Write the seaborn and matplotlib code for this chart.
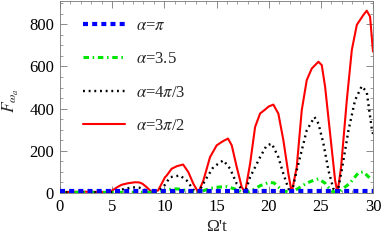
import numpy as np
import pandas as pd
import matplotlib
matplotlib.use('Agg')
import matplotlib.pyplot as plt
from matplotlib.ticker import MultipleLocator
import seaborn as sns

# values
t_red = [0, 1, 2, 3, 4, 4.5, 5.0, 5.5, 5.9, 6.5, 7.2, 7.6, 7.9, 8.3, 8.8, 9.4,
         10.07, 10.23, 10.7, 11.2, 11.8, 12.3, 12.78, 13.26, 13.74, 14.38, 15.02,
         15.6, 16.1, 16.46, 16.94, 17.42, 17.74, 18.22, 18.7, 19.18, 19.65, 20.0,
         20.45, 20.93, 21.41, 21.89, 22.21, 22.69, 23.17, 23.65, 24.13, 24.77,
         25.09, 25.41, 25.89, 26.37, 26.6, 26.94, 27.49, 27.97, 28.45, 29.08,
         29.4, 29.72, 30.0]
f_red = [5, 5, 6, 6, 4, 3, 12, 28, 39, 46, 51, 50, 44, 28, 4, 12,
         75, 83, 115, 127, 135, 99, 44, 3, 59, 170, 226,
         245, 258, 226, 123, 28, 3, 139, 313, 377, 395, 410,
         419, 376, 250, 91, 2, 123, 392, 535, 590, 622,
         606, 503, 281, 59, 2, 123, 440, 678, 797, 844,
         864, 836, 670]

t_black = [0, 5, 5.5, 6.2, 7.0, 7.6, 8.2, 8.8, 9.4, 9.9, 10.55, 11.5, 12.15,
           12.8, 13.26, 13.9, 14.7, 15.66, 16.3, 16.94, 17.74, 18.22, 19.18,
           19.8, 20.3, 20.93, 21.41, 21.9, 22.21, 22.69, 23.17, 23.65, 24.39,
           24.77, 25.25, 25.73, 26.2, 26.6, 27.0, 27.65, 28.28, 28.92, 29.4,
           29.88, 30.0]
f_black = [4, 4, 10, 20, 27, 25, 14, 2, 10, 28, 75, 83, 59,
           15, 2, 59, 123, 155, 115, 44, 2, 75, 170,
           225, 234, 170, 91, 20, 2, 107, 202, 297, 360,
           329, 234, 107, 20, 2, 107, 297, 440, 506, 479,
           305, 280]

t_green = [0, 9.0, 9.5, 10.2, 10.9, 11.6, 12.3, 13.0, 13.6, 14.4, 15.2, 16.0,
           16.7, 17.4, 17.9, 18.5, 19.2, 20.0, 20.5, 21.3, 22.0, 22.6, 23.65,
           24.4, 24.77, 25.4, 25.7, 26.2, 26.8, 27.8, 28.6, 29.1, 29.7, 30.0]
f_green = [3, 3, 5, 15, 20, 18, 8, 3, 8, 22, 28, 30,
           20, 6, 3, 15, 35, 50, 48, 12, 3, 15, 47,
           62, 67, 47, 28, 5, 8, 47, 96, 100, 70, 72]

t_blue = [0, 30]
f_blue = [8, 8]

labels = [r'$\alpha$=$\pi$', r'$\alpha$=3.5', r'$\alpha$=4$\pi$/3', r'$\alpha$=3$\pi$/2']

sns.set_style('ticks')
plt.rcParams['font.family'] = 'serif'
plt.rcParams['font.serif'] = ['Liberation Serif', 'DejaVu Serif']
plt.rcParams['mathtext.fontset'] = 'stix'

fig, ax = plt.subplots(figsize=(3.82, 2.44), dpi=100)
fig.subplots_adjust(left=60/382, right=373/382, top=1-1/244, bottom=1-193/244)

sns.lineplot(x=t_blue, y=f_blue, ax=ax, color='#0000ff', lw=3.0,
             linestyle=(0, (1.2, 1.0)), dash_capstyle='butt', label=labels[0], zorder=5)
sns.lineplot(x=t_green, y=f_green, ax=ax, color='#00e600', lw=2.2,
             linestyle=(0, (1.8, 1.2, 0.5, 1.2)), label=labels[1], zorder=4)
sns.lineplot(x=t_black, y=f_black, ax=ax, color='black', lw=1.7,
             linestyle=(0, (0.8, 1.6)), label=labels[2], zorder=3)
sns.lineplot(x=t_red, y=f_red, ax=ax, color='#ff0000', lw=1.5,
             label=labels[3], zorder=2)

ax.set_xlim(0, 30)
ax.set_ylim(0, 910)
ax.xaxis.set_major_locator(MultipleLocator(5))
ax.xaxis.set_minor_locator(MultipleLocator(1))
ax.yaxis.set_major_locator(MultipleLocator(200))
ax.yaxis.set_minor_locator(MultipleLocator(50))
ax.tick_params(which='both', direction='in', top=True, right=True,
               colors='#777777', labelcolor='black', labelsize=12, pad=4)
ax.tick_params(which='major', length=5, width=0.6)
ax.tick_params(which='minor', length=2.5, width=0.5)
for s in ax.spines.values():
    s.set_color('#777777')
    s.set_linewidth(0.6)

ax.set_xlabel("Ω't", fontsize=12.5)
ax.set_ylabel(r'$F_{\omega_a}$', fontsize=12.5)
lab_x = [0.5, -0.13]
lab_y = [-0.12, 0.49]
ax.xaxis.set_label_coords(*lab_x)
ax.yaxis.set_label_coords(*lab_y)

fs_px = 12 * 100 / 72
leg_kw = dict(loc='upper left', frameon=False, borderaxespad=0, borderpad=0,
              fontsize=12, handlelength=2.5)
anchor = [0.07, 0.93]
spacing, textpad = 1.0, 0.7


def make_legend():
    return ax.legend(bbox_to_anchor=tuple(anchor), labelspacing=spacing,
                     handletextpad=textpad, **leg_kw)


# nudge legend / labels so they sit where the reference has them (pixels from top-left)
H = fig.bbox.height
aw, ah = ax.bbox.width, ax.bbox.height
padx, pady = 4.0, 4.0
for _ in range(3):
    leg = make_legend()
    ax.tick_params(axis='x', which='both', pad=padx)
    ax.tick_params(axis='y', which='both', pad=pady)
    fig.canvas.draw()
    r = fig.canvas.get_renderer()
    tb = [t.get_window_extent(r) for t in leg.get_texts()]
    cen = [H - (b.y0 + b.y1) / 2 for b in tb]
    hx = leg.legend_handles[3].get_window_extent(r).x0
    spacing += (33.3 - (cen[3] - cen[0]) / 3) / fs_px
    textpad += (53.5 - (tb[0].x0 - hx)) / fs_px
    anchor[0] -= (hx - 83) / aw
    anchor[1] += (cen[0] - 26) / ah

    xl = [l for l in ax.get_xticklabels() if l.get_text() == '0'][0].get_window_extent(r)
    padx -= (H - (xl.y0 + xl.y1) / 2 - 207) * 0.72
    yl = [l for l in ax.get_yticklabels() if l.get_text() == '800'][0].get_window_extent(r)
    pady += (yl.x1 - 54) * 0.72

    xb = ax.xaxis.label.get_window_extent(r)
    lab_x[1] += (H - (xb.y0 + xb.y1) / 2 - 227) / ah
    yb = ax.yaxis.label.get_window_extent(r)
    lab_y[0] -= ((yb.x0 + yb.x1) / 2 - 11) / aw
    lab_y[1] += (H - (yb.y0 + yb.y1) / 2 - 100) / ah
    ax.xaxis.set_label_coords(*lab_x)
    ax.yaxis.set_label_coords(*lab_y)
    leg.remove()

make_legend()
ax.tick_params(axis='x', which='both', pad=padx)
ax.tick_params(axis='y', which='both', pad=pady)

fig.savefig('out.png', dpi=100)
